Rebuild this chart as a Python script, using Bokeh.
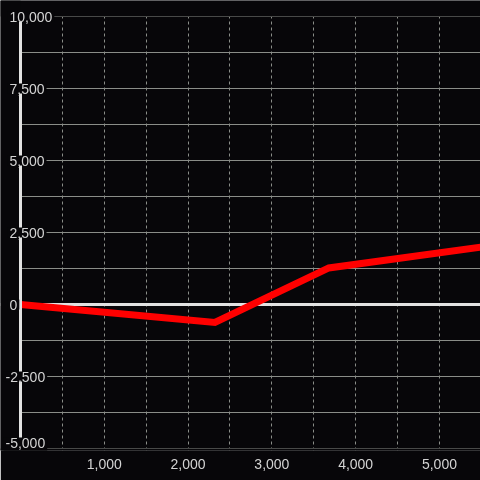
from bokeh.plotting import figure
from bokeh.models import FixedTicker, NumeralTickFormatter, Label
from bokeh.embed import file_html
from bokeh.resources import INLINE

# ---- data ----
series_x = [0, 2320, 3680, 5490]
series_y = [0, -625, 1270, 1990]

x_start, x_end = 0, 5490
y_start, y_end = -5000, 10000

x_label_ticks = [1000, 2000, 3000, 4000, 5000]
x_grid_ticks = [500, 1000, 1500, 2000, 2500, 3000, 3500, 4000, 4500, 5000]
y_label_ticks = [10000, 7500, 5000, 2500, 0, -2500, -5000]
y_grid_ticks = [10000, 8750, 7500, 6250, 5000, 3750, 2500, 1250, 0,
                -1250, -2500, -3750, -5000]
y_labels = [f"{v:,}" for v in y_label_ticks]

BG = "#070609"
GRID = "#8a8d88"
AXIS = "#e2e2e2"
LABEL = "#d4d4d4"
FONT = "Liberation Sans"

W, H = 480, 480
LEFT_GUTTER = 20   # px left of the y axis
TOP_GUTTER = 16    # px above the top grid line
BOTTOM_PAD = 2     # px of frame below the bottom grid line
BOTTOM = 30        # px for x labels
plot_px = H - BOTTOM - BOTTOM_PAD - TOP_GUTTER
upp = (y_end - y_start) / plot_px  # data units per pixel
view_x0 = x_start - (x_end - x_start) * LEFT_GUTTER / (W - LEFT_GUTTER)
view_y1 = y_end + TOP_GUTTER * upp
view_y0 = y_start - BOTTOM_PAD * upp

p = figure(width=W, height=H, x_range=(view_x0, x_end), y_range=(view_y0, view_y1),
           output_backend="svg", toolbar_location=None,
           y_axis_location=None,
           min_border_left=0, min_border_right=0,
           min_border_top=0, min_border_bottom=BOTTOM)
p.styles = {"position": "fixed", "left": "0px", "top": "0px"}
p.background_fill_color = BG
p.border_fill_color = BG
p.outline_line_color = None

# x axis (labels only)
ax = p.xaxis[0]
ax.ticker = FixedTicker(ticks=x_label_ticks)
ax.formatter = NumeralTickFormatter(format="0,0")
ax.axis_line_color = None
ax.axis_line_alpha = 0
ax.major_tick_line_color = None
ax.minor_tick_line_color = None
ax.major_label_text_font = FONT
ax.major_label_text_font_size = "14px"
ax.major_label_text_color = LABEL
ax.major_label_standoff = 2

# grids
p.xgrid[0].ticker = FixedTicker(ticks=x_grid_ticks)
p.xgrid[0].grid_line_color = GRID
p.xgrid[0].grid_line_dash = "3 3"
p.xgrid[0].grid_line_width = 1
p.ygrid[0].ticker = FixedTicker(ticks=y_grid_ticks)
p.ygrid[0].grid_line_color = GRID
p.ygrid[0].grid_line_width = 1

# blank strips above the top and below the bottom grid line
p.hstrip(y0=[y_end], y1=[view_y1], fill_color=BG, line_color=None)
p.hstrip(y0=[view_y0], y1=[y_start], fill_color=BG, line_color=None)

# zero baseline
p.hspan(y=[0], line_color=AXIS, line_width=3)

# data line
p.line(series_x, series_y, line_color="#ff0000", line_width=7,
       line_join="miter", line_cap="butt")

# blank gutter left of the y axis
p.vstrip(x0=[view_x0], x1=[x_start], fill_color=BG, line_color=None)

# y axis bar
p.segment(x0=[x_start], y0=[y_start], x1=[x_start], y1=[y_end],
          line_color=AXIS, line_width=3)

# y tick labels with background boxes
for v, t in zip(y_label_ticks, y_labels):
    low = v == y_start
    p.add_layout(Label(
        x=x_start, y=v, text=t,
        x_offset=-17 if v < 0 else -13,
        y_offset=2 if low else 0,
        text_font=FONT, text_font_size="14px", text_color=LABEL,
        text_align="left", text_baseline="middle",
        background_fill_color=BG,
        padding=dict(left=2, right=2, top=0, bottom=8 if low else 0)))

open("out.html", "w").write(file_html(p, INLINE))
